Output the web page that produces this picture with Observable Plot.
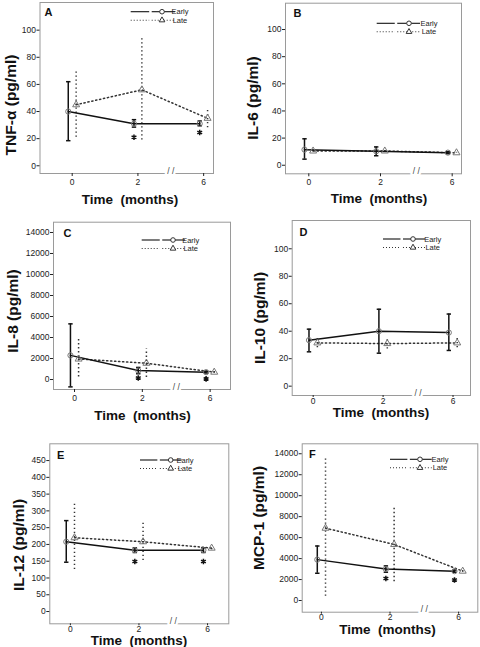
<!DOCTYPE html>
<html><head><meta charset="utf-8">
<script src="https://cdn.jsdelivr.net/npm/d3@7"></script>
<script src="https://cdn.jsdelivr.net/npm/@observablehq/plot@0.6"></script>
<style>
html,body{margin:0;padding:0;background:#fff;}
#wrap{position:relative;width:480px;height:647px;overflow:hidden;}
.panel{position:absolute;}
</style></head><body><div id="wrap"></div>
<script>
// ---------- data ----------
const timeLabels = ["0", "2", "6"];      // months
const timeIndex = [0, 1, 2];
const breakAt = 1.5;                      // axis break between 2 and 6

// A: TNF-alpha (pg/ml)
const tnfEarly = [40, 31, 31],   tnfEarlyLo = [18.5, 28.5, 29.5], tnfEarlyHi = [62, 34, 33];
const tnfLate  = [45, 56, 35],   tnfLateLo  = [21, 19, 28],       tnfLateHi  = [70, 95, 42];
const tnfStar  = [null, 21, 24.5];
const tnfTicks = [0, 20, 40, 60, 80, 100];

// B: IL-6 (pg/ml)
const il6Early = [11.5, 10.3, 9.3], il6EarlyLo = [4.5, 7, 8.5], il6EarlyHi = [19.5, 13.5, 10];
const il6Late  = [10.5, 10.5, 9.2], il6LateLo  = [10, 10, 9],   il6LateHi  = [11, 11, 9.5];
const il6Star  = [null, null, null];
const il6Ticks = [0, 20, 40, 60, 80, 100];

// C: IL-8 (pg/ml)
const il8Early = [2300, 850, 700], il8EarlyLo = [-700, 550, 620], il8EarlyHi = [5300, 1150, 780];
const il8Late  = [1950, 1550, 700], il8LateLo = [250, 200, 640],  il8LateHi  = [3800, 2900, 760];
const il8Star  = [null, 150, 60];
const il8Ticks = [0, 2000, 4000, 6000, 8000, 10000, 12000, 14000];

// D: IL-10 (pg/ml)
const il10Early = [33.5, 40, 39], il10EarlyLo = [25, 24, 26], il10EarlyHi = [41.5, 56, 52.5];
const il10Late  = [31.5, 31, 31.5], il10LateLo = [28, 27, 28], il10LateHi = [35, 35, 35];
const il10Star  = [null, null, null];
const il10Ticks = [0, 20, 40, 60, 80, 100];

// E: IL-12 (pg/ml)
const il12Early = [208, 183, 183], il12EarlyLo = [147, 176, 176], il12EarlyHi = [271, 190, 190];
const il12Late  = [220, 208, 189], il12LateLo  = [125, 152, 184], il12LateHi  = [321, 266, 195];
const il12Star  = [null, 149, 149];
const il12Ticks = [0, 50, 100, 150, 200, 250, 300, 350, 400, 450];

// F: MCP-1 (pg/ml)
const mcpEarly = [3900, 3000, 2800], mcpEarlyLo = [2600, 2700, 2700], mcpEarlyHi = [5200, 3300, 2900];
const mcpLate  = [6900, 5350, 2800], mcpLateLo  = [400, 1800, 2750],  mcpLateHi  = [13700, 9000, 2850];
const mcpStar  = [null, 2100, 1950];
const mcpTicks = [0, 2000, 4000, 6000, 8000, 10000, 12000, 14000];

const legendLabels = ["Early", "Late"];
const xTitle = "Time\u00a0\u00a0(months)";

// ---------- layout (panel-local pixels) ----------
const panels = [
  {letter: "A", yTitle: "TNF-\u03b1 (pg/ml)", early: tnfEarly, eLo: tnfEarlyLo, eHi: tnfEarlyHi, late: tnfLate, lLo: tnfLateLo, lHi: tnfLateHi, star: tnfStar, ticks: tnfTicks,
   px: 0, py: 0, h: 215, fl: 39.5, fr: 213, ft: 2, fb: 173, xd: [-0.49, 2.15], yd: [-5.7, 120.4], xtick: [3, 2],
   let: [4.5, 9.5], leg: {x0: 130.7, x1: 175, xm: 162, tx: 180, y: 11.7}, yt: [10, 105], xt: [130, 199]},
  {letter: "B", yTitle: "IL-6 (pg/ml)", early: il6Early, eLo: il6EarlyLo, eHi: il6EarlyHi, late: il6Late, lLo: il6LateLo, lHi: il6LateHi, star: il6Star, ticks: il6Ticks,
   px: 240, py: 0, h: 215, fl: 45, fr: 221, ft: 2.7, fb: 173.3, xd: [-0.325, 2.13], yd: [-6.3, 119.4], xtick: [3, 2],
   let: [8, 10], leg: {x0: 136.7, x1: 180, xm: 169, tx: 189, y: 23.3}, yt: [12.5, 98], xt: [139, 198]},
  {letter: "C", yTitle: "IL-8 (pg/ml)", early: il8Early, eLo: il8EarlyLo, eHi: il8EarlyHi, late: il8Late, lLo: il8LateLo, lHi: il8LateHi, star: il8Star, ticks: il8Ticks,
   px: 0, py: 215, h: 215, fl: 53, fr: 230, ft: 6.7, fb: 174, xd: [-0.31, 2.30], yd: [-950, 14980], xtick: [3, 2],
   let: [10, 11.7], leg: {x0: 141.7, x1: 185, xm: 173, tx: 190.7, y: 25}, yt: [12.5, 96], xt: [142.5, 200]},
  {letter: "D", yTitle: "IL-10 (pg/ml)", early: il10Early, eLo: il10EarlyLo, eHi: il10EarlyHi, late: il10Late, lLo: il10LateLo, lHi: il10LateHi, star: il10Star, ticks: il10Ticks,
   px: 240, py: 215, h: 215, fl: 51.7, fr: 230, ft: 5, fb: 180, xd: [-0.30, 2.25], yd: [-6.8, 120.6], xtick: [2, 0],
   let: [7.3, 11.7], leg: {x0: 143, x1: 185, xm: 173, tx: 192.7, y: 24}, yt: [19, 103], xt: [141, 197.5]},
  {letter: "E", yTitle: "IL-12 (pg/ml)", early: il12Early, eLo: il12EarlyLo, eHi: il12EarlyHi, late: il12Late, lLo: il12LateLo, lHi: il12LateHi, star: il12Star, ticks: il12Ticks,
   px: 0, py: 430, h: 217, fl: 49.3, fr: 228.3, ft: 13.3, fb: 193.3, xd: [-0.30, 2.31], yd: [-36.6, 500], xtick: [2, 0],
   let: [7.3, 11.7], leg: {x0: 140, x1: 181.7, xm: 170.7, tx: 185, y: 30}, yt: [18, 115], xt: [139, 210]},
  {letter: "F", yTitle: "MCP-1 (pg/ml)", early: mcpEarly, eLo: mcpEarlyLo, eHi: mcpEarlyHi, late: mcpLate, lLo: mcpLateLo, lHi: mcpLateHi, star: mcpStar, ticks: mcpTicks,
   px: 240, py: 430, h: 217, fl: 61.7, fr: 237.3, ft: 13.3, fb: 181.7, xd: [-0.28, 2.28], yd: [-1115, 14950], xtick: [2, 0],
   let: [6.7, 10.7], leg: {x0: 150, x1: 191.7, xm: 180, tx: 200, y: 29.3}, yt: [18, 88], xt: [147.5, 199]}
];

// ---------- style ----------
const FONT = "'Liberation Sans', Arial, Helvetica, sans-serif";
const off = 0.06;
const earlyColor = "#111", lateColor = "#333", markerColor = "#777", frameColor = "#9a9a9a";
const dotted = {stroke: lateColor, strokeWidth: 1.5, strokeDasharray: "1.3,2.7"};
const capSymbol = {draw(ctx, size) { const w = Math.sqrt(size / Math.PI); ctx.moveTo(-w, 0); ctx.lineTo(w, 0); }};

const wrap = document.getElementById("wrap");

for (const p of panels) {
  const rows = timeIndex.map((t, i) => ({
    t, early: p.early[i], eLo: p.eLo[i], eHi: p.eHi[i],
    late: p.late[i], lLo: p.lLo[i], lHi: p.lHi[i], star: p.star[i]
  }));
  const starRows = rows.filter(d => d.star != null);
  const svg = Plot.plot({
    width: 240, height: p.h,
    marginLeft: p.fl, marginRight: 240 - p.fr, marginTop: p.ft, marginBottom: p.h - p.fb,
    x: {type: "linear", domain: p.xd, axis: null},
    y: {type: "linear", domain: p.yd, axis: null},
    style: {fontFamily: FONT, fontSize: "8px", color: "#222", background: "white", overflow: "visible"},
    marks: [
      Plot.frame({stroke: frameColor}),
      Plot.axisX(timeIndex, {tickFormat: i => timeLabels[i], tickSize: p.xtick[0], tickPadding: p.xtick[1], fontSize: 8.5, stroke: "#222", label: null}),
      Plot.axisY(p.ticks, {tickSize: 3, tickPadding: 1, fontSize: 8.5, stroke: "#222", label: null, tickFormat: d => String(d)}),
      Plot.text([breakAt], {x: d => d, frameAnchor: "bottom", text: () => "/ /", fontSize: 8.5, fill: "#444", stroke: "white", strokeWidth: 5}),
      // Late (dotted)
      Plot.line(rows, {x: d => d.t + off, y: "late", ...dotted}),
      Plot.ruleX(rows, {x: d => d.t + off, y1: "lLo", y2: "lHi", ...dotted}),
      // Early (solid)
      Plot.line(rows, {x: d => d.t - off, y: "early", stroke: earlyColor, strokeWidth: 1.5}),
      Plot.ruleX(rows, {x: d => d.t - off, y1: "eLo", y2: "eHi", stroke: earlyColor, strokeWidth: 1.5}),
      Plot.dot(rows, {x: d => d.t - off, y: "eLo", symbol: capSymbol, r: 2.2, stroke: earlyColor, strokeWidth: 1.5}),
      Plot.dot(rows, {x: d => d.t - off, y: "eHi", symbol: capSymbol, r: 2.2, stroke: earlyColor, strokeWidth: 1.5}),
      Plot.dot(rows, {x: d => d.t - off, y: "early", r: 2.6, stroke: markerColor, fill: "none", strokeWidth: 1}),
      Plot.dot(rows, {x: d => d.t + off, y: "late", symbol: "triangle", r: 2.6, stroke: markerColor, fill: "none", strokeWidth: 1}),
      Plot.dot(starRows, {x: d => d.t - off, y: "star", symbol: "asterisk", r: 2.6, stroke: "#111", strokeWidth: 1.5}),
      Plot.text([p.letter], {frameAnchor: "top-left", dx: p.let[0], dy: p.let[1], lineAnchor: "middle", textAnchor: "start", fontSize: 11, fontWeight: "bold", fill: "#111"})
    ]
  });
  const s = d3.select(svg);
  // axis titles
  s.append("text").attr("transform", `translate(${p.yt[0]},${p.yt[1]}) rotate(-90)`)
    .attr("text-anchor", "middle").attr("dominant-baseline", "central")
    .attr("font-family", FONT).attr("font-weight", "bold").attr("font-size", 15.5).attr("fill", "#111")
    .text(p.yTitle);
  s.append("text").attr("x", p.xt[0]).attr("y", p.xt[1])
    .attr("text-anchor", "middle").attr("dominant-baseline", "central")
    .attr("font-family", FONT).attr("font-weight", "bold").attr("font-size", 13.5).attr("fill", "#111")
    .text(xTitle);
  // legend
  const L = p.leg;
  const lg = s.append("g").attr("font-family", FONT).attr("font-size", 7.5).attr("fill", "#222");
  legendLabels.forEach((lab, k) => {
    const y = L.y + k * 8.5;
    const mid = L.x0 + (L.x1 - L.x0) * 0.44;
    [[L.x0, mid - 1], [mid + 1.5, L.x1]].forEach(([a, b]) => {
      const ln = lg.append("line").attr("x1", a).attr("x2", b).attr("y1", y).attr("y2", y)
        .attr("stroke", k === 0 ? earlyColor : lateColor).attr("stroke-width", 1.1);
      if (k === 1) ln.attr("stroke-dasharray", "1,2");
    });
    if (k === 0) {
      lg.append("circle").attr("cx", L.xm).attr("cy", y).attr("r", 2.3).attr("fill", "white").attr("stroke", "#333");
    } else {
      const sym = d3.symbol(d3.symbolTriangle, 14)();
      lg.append("path").attr("d", sym).attr("transform", `translate(${L.xm},${y})`).attr("fill", "white").attr("stroke", "#333");
    }
    lg.append("text").attr("x", L.tx).attr("y", y).attr("dominant-baseline", "central").text(lab);
  });
  const div = document.createElement("div");
  div.className = "panel";
  div.style.left = p.px + "px";
  div.style.top = p.py + "px";
  div.appendChild(svg);
  wrap.appendChild(div);
}
</script>
</body></html>
